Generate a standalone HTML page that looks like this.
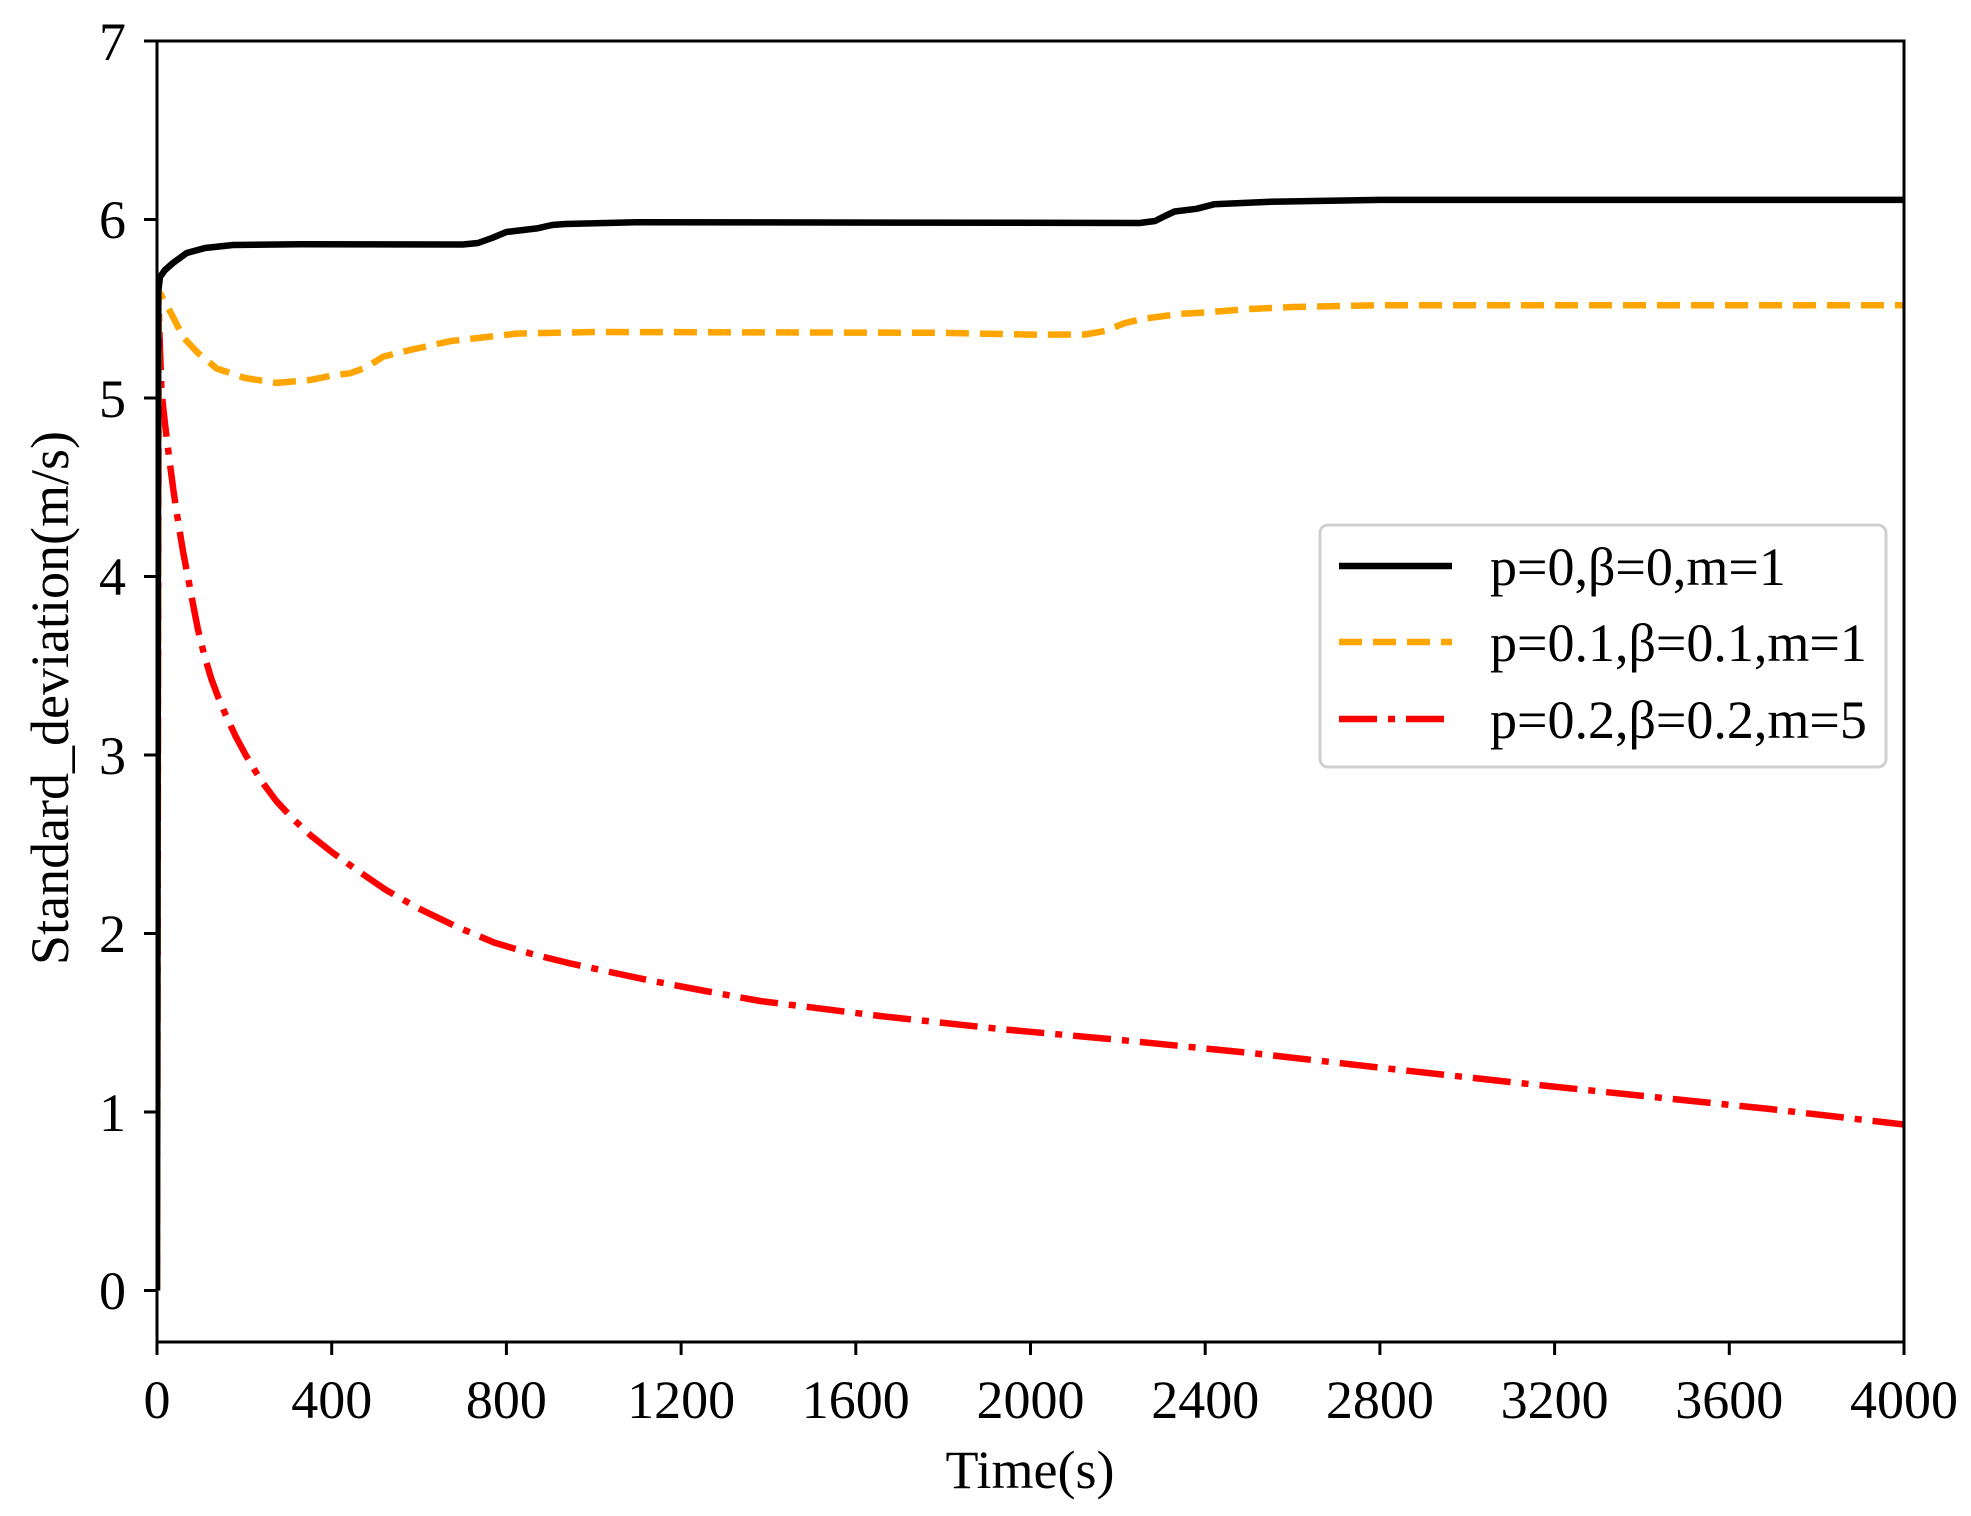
<!DOCTYPE html>
<html><head><meta charset="utf-8"><style>
html,body{margin:0;padding:0;background:#fff;}
svg{display:block;}
text{font-family:"Liberation Serif","Times New Roman",serif;fill:#000;}
</style></head><body>
<svg width="1971" height="1516" viewBox="0 0 1971 1516" xmlns="http://www.w3.org/2000/svg">
<rect width="1971" height="1516" fill="#fff"/>
<defs><clipPath id="c"><rect x="157" y="41" width="1747" height="1301"/></clipPath></defs>
<g clip-path="url(#c)" fill="none" stroke-width="6.5" stroke-linejoin="round">
<path stroke="#ff0000" stroke-dasharray="38,11,7,11" d="M157,1290.5 L158.7,308.8 L160,350 L161.5,391.5 L165,424 L169,456.5 L173.5,491 L178.7,525.4 L183.3,553 L188.3,579 L193,604 L197.8,628.8 L204,654 L211.2,678.5 L218.5,698 L226.5,716.8 L235.5,736 L245.7,755 L260,779 L276.3,801 L293,819 L310.7,835.4 L333,853 L356.7,869.9 L386,890 L417.9,908.1 L455,926 L494.4,942.6 L532,954 L571,963.6 L610,972 L647.5,980 L700,990 L760,1001 L880,1016 L1000,1029 L1131,1041 L1260,1054 L1383,1068 L1510,1082 L1634,1095 L1770,1109 L1904,1124.5"/>
<path stroke="#ffa500" stroke-dasharray="23,11" d="M157,1290.5 L158.7,291 L163.3,299 L172,315 L183.3,337.4 L198,353 L216.7,368.5 L245,378 L276.7,382.9 L310,380 L335,375 L350,373.3 L365,368 L383.3,356.6 L410,350 L450,341.2 L516.7,333.6 L593.8,332 L943,332.8 L1030,334.6 L1085,334.5 L1105,331 L1125,323 L1145,318.5 L1180,314 L1205,312.4 L1250,309 L1292.6,307 L1380,305.2 L1904,305.2"/>
<path stroke="#000" d="M157,1290.5 L158.3,291 L160,277 L165,270 L173,263 L186.7,253 L205,248 L233,245 L300,244.3 L462.7,244.5 L478,243 L492,238 L506.4,232 L537,228.4 L552,225 L565,224 L637.4,222.2 L1139.7,223 L1155,221 L1165,216 L1174.6,211.5 L1196.5,208.8 L1214,204.3 L1270.7,201.7 L1380,199.9 L1904,199.9"/>
</g>
<rect x="157" y="41" width="1747" height="1301" fill="none" stroke="#000" stroke-width="3"/>
<g stroke="#000" stroke-width="3">
<line x1="144" y1="41" x2="157" y2="41"/>
<line x1="144" y1="219.5" x2="157" y2="219.5"/>
<line x1="144" y1="398" x2="157" y2="398"/>
<line x1="144" y1="576.5" x2="157" y2="576.5"/>
<line x1="144" y1="755" x2="157" y2="755"/>
<line x1="144" y1="933.5" x2="157" y2="933.5"/>
<line x1="144" y1="1112" x2="157" y2="1112"/>
<line x1="144" y1="1290.5" x2="157" y2="1290.5"/>
</g>
<g font-size="54" text-anchor="end">
<text x="126" y="60">7</text>
<text x="126" y="238">6</text>
<text x="126" y="417">5</text>
<text x="126" y="595">4</text>
<text x="126" y="774">3</text>
<text x="126" y="952">2</text>
<text x="126" y="1131">1</text>
<text x="126" y="1309">0</text>
</g>
<g stroke="#000" stroke-width="3">
<line x1="157" y1="1342" x2="157" y2="1355"/>
<line x1="331.7" y1="1342" x2="331.7" y2="1355"/>
<line x1="506.4" y1="1342" x2="506.4" y2="1355"/>
<line x1="681.1" y1="1342" x2="681.1" y2="1355"/>
<line x1="855.8" y1="1342" x2="855.8" y2="1355"/>
<line x1="1030.5" y1="1342" x2="1030.5" y2="1355"/>
<line x1="1205.2" y1="1342" x2="1205.2" y2="1355"/>
<line x1="1379.9" y1="1342" x2="1379.9" y2="1355"/>
<line x1="1554.6" y1="1342" x2="1554.6" y2="1355"/>
<line x1="1729.3" y1="1342" x2="1729.3" y2="1355"/>
<line x1="1904" y1="1342" x2="1904" y2="1355"/>
</g>
<g font-size="54" text-anchor="middle">
<text x="157" y="1418">0</text>
<text x="331.7" y="1418">400</text>
<text x="506.4" y="1418">800</text>
<text x="681.1" y="1418">1200</text>
<text x="855.8" y="1418">1600</text>
<text x="1030.5" y="1418">2000</text>
<text x="1205.2" y="1418">2400</text>
<text x="1379.9" y="1418">2800</text>
<text x="1554.6" y="1418">3200</text>
<text x="1729.3" y="1418">3600</text>
<text x="1904" y="1418">4000</text>
</g>
<text x="1030" y="1488" font-size="54" text-anchor="middle">Time(s)</text>
<text transform="translate(68,698) rotate(-90)" font-size="54" text-anchor="middle">Standard_deviation(m/s)</text>
<rect x="1320" y="525" width="566" height="242" rx="8" fill="#fff" fill-opacity="0.8" stroke="#d0d0d0" stroke-width="3"/>
<line x1="1339" y1="566" x2="1452" y2="566" stroke="#000" stroke-width="6.5"/>
<line x1="1339" y1="642" x2="1452" y2="642" stroke="#ffa500" stroke-width="6.5" stroke-dasharray="23,11"/>
<line x1="1339" y1="719" x2="1452" y2="719" stroke="#ff0000" stroke-width="6.5" stroke-dasharray="38,11,7,11"/>
<g font-size="54">
<text x="1490" y="585">p=0,β=0,m=1</text>
<text x="1490" y="661">p=0.1,β=0.1,m=1</text>
<text x="1490" y="738">p=0.2,β=0.2,m=5</text>
</g>
</svg>
</body></html>
